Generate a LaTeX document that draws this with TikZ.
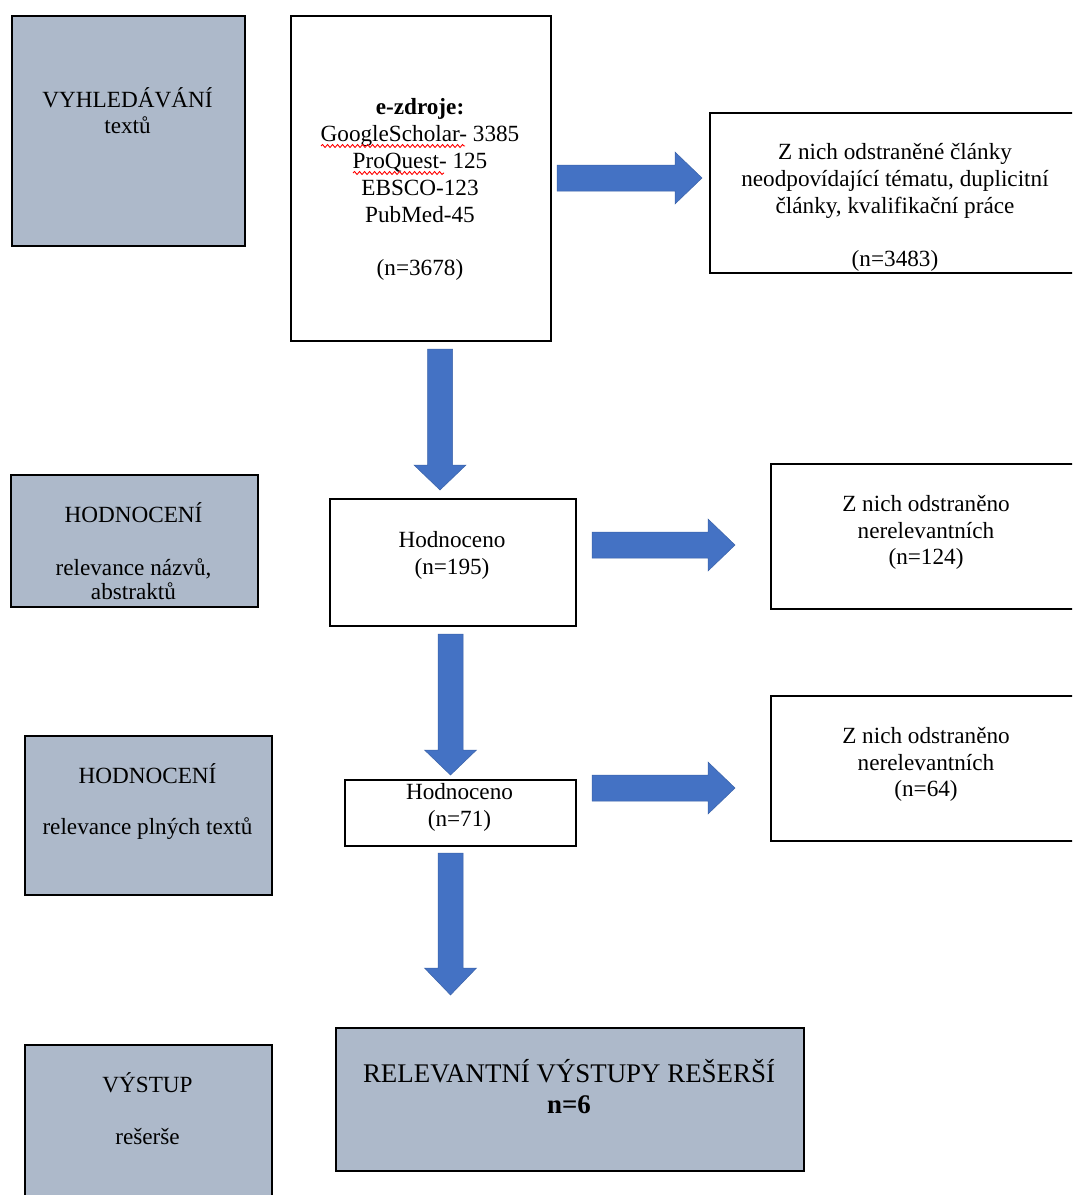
\documentclass[tikz,border=0pt]{standalone}
\usepackage{fontspec}
\setmainfont{Liberation Serif}
\usetikzlibrary{decorations.pathmorphing}
\definecolor{boxgray}{HTML}{ADB9CA}
\definecolor{arrowblue}{HTML}{4472C4}
\definecolor{arrowedge}{HTML}{3A62A8}
\newcommand\harrowshape[4]{%
  \path[blockarrow] (#1,#4-13) -- (#2,#4-13) -- (#2,#4-26) -- (#3,#4) -- (#2,#4+26) -- (#2,#4+13) -- (#1,#4+13) -- cycle;}
\newcommand\varrowshape[4]{%
  \path[blockarrow] (#1-12.5,#2) -- (#1+12.5,#2) -- (#1+12.5,#3) -- (#1+26,#3) -- (#1,#4) -- (#1-26,#3) -- (#1-12.5,#3) -- cycle;}
\begin{document}
\begin{tikzpicture}[x=1pt,y=-1pt,
  box/.style={draw=black, line width=1.7pt, rectangle, inner sep=0pt, anchor=north west},
  graybox/.style={box, fill=boxgray},
  txt/.style={anchor=base, inner sep=0pt, font=\fontsize{23.2}{27}\selectfont},
  bigtxt/.style={anchor=base, inner sep=0pt, font=\fontsize{26.9}{31}\selectfont},
  blockarrow/.style={fill=arrowblue, draw=arrowedge, line width=0.5pt, line join=miter},
  wavy/.style={red, line width=0.9pt, decorate, decoration={snake, amplitude=1.5pt, segment length=5pt}}]
\useasboundingbox (0,0) rectangle (1072,1195);
\clip (0,0) rectangle (1072,1195);
\fill[white] (0,0) rectangle (1072,1195);

% boxes
\node[graybox, minimum width=233pt, minimum height=230pt] (A) at (11,15) {};
\node[box, minimum width=260pt, minimum height=325pt] (B) at (290,15) {};
\node[box, minimum width=380pt, minimum height=160pt] (C) at (709,112) {};
\node[graybox, minimum width=247pt, minimum height=132pt] (D) at (10,474) {};
\node[box, minimum width=246pt, minimum height=127pt] (E) at (329,498) {};
\node[box, minimum width=320pt, minimum height=145pt] (F) at (770,463) {};
\node[graybox, minimum width=247pt, minimum height=159pt] (G) at (24,735) {};
\node[box, minimum width=231pt, minimum height=66pt] (H) at (344,779) {};
\node[box, minimum width=320pt, minimum height=145pt] (I) at (770,695) {};
\node[graybox, minimum width=247pt, minimum height=170pt] (J) at (24,1044) {};
\node[graybox, minimum width=468pt, minimum height=143pt] (K) at (335,1027) {};

% block arrows
\harrowshape{557}{675}{702}{178}
\harrowshape{592}{708}{735}{545}
\harrowshape{592}{708}{735}{788}
\varrowshape{440}{349}{465}{490}
\varrowshape{450.5}{634}{750}{775}
\varrowshape{450.5}{853}{968}{995}

% texts
\node[txt] (a1) at (127.5,107) {VYHLEDÁVÁNÍ};
\node[txt] (a2) at (127.5,133) {textů};

\node[txt] (b1) at (420,114) {\bfseries e-zdroje:};
\node[txt] (b2) at (420,141) {GoogleScholar- 3385};
\node[txt] (b3) at (420,168) {ProQuest- 125};
\node[txt] (b4) at (420,195) {EBSCO-123};
\node[txt] (b5) at (420,222) {PubMed-45};
\node[txt] (b6) at (420,275) {(n=3678)};
\draw[wavy] (321,146) -- (465,146);
\draw[wavy] (353,173) -- (444,173);

\node[txt] (c1) at (895,159) {Z nich odstraněné články};
\node[txt] (c2) at (895,186) {neodpovídající tématu, duplicitní};
\node[txt] (c3) at (895,213) {články, kvalifikační práce};
\node[txt] (c4) at (895,266) {(n=3483)};

\node[txt] (d1) at (133.5,522) {HODNOCENÍ};
\node[txt] (d2) at (133.5,575) {relevance názvů,};
\node[txt] (d3) at (133.5,599) {abstraktů};

\node[txt] (e1) at (452,547) {Hodnoceno};
\node[txt] (e2) at (452,574) {(n=195)};

\node[txt] (f1) at (926,511) {Z nich odstraněno};
\node[txt] (f2) at (926,538) {nerelevantních};
\node[txt] (f3) at (926,564) {(n=124)};

\node[txt] (g1) at (147.5,783) {HODNOCENÍ};
\node[txt] (g2) at (147.5,834) {relevance plných textů};

\node[txt] (h1) at (459.5,799) {Hodnoceno};
\node[txt] (h2) at (459.5,826) {(n=71)};

\node[txt] (i1) at (926,743) {Z nich odstraněno};
\node[txt] (i2) at (926,770) {nerelevantních};
\node[txt] (i3) at (926,796) {(n=64)};

\node[txt] (j1) at (147.5,1092) {VÝSTUP};
\node[txt] (j2) at (147.5,1144) {rešerše};

\node[bigtxt] (k1) at (569,1082) {RELEVANTNÍ VÝSTUPY REŠERŠÍ};
\node[bigtxt] (k2) at (569,1113) {\bfseries n=6};
\end{tikzpicture}
\end{document}
